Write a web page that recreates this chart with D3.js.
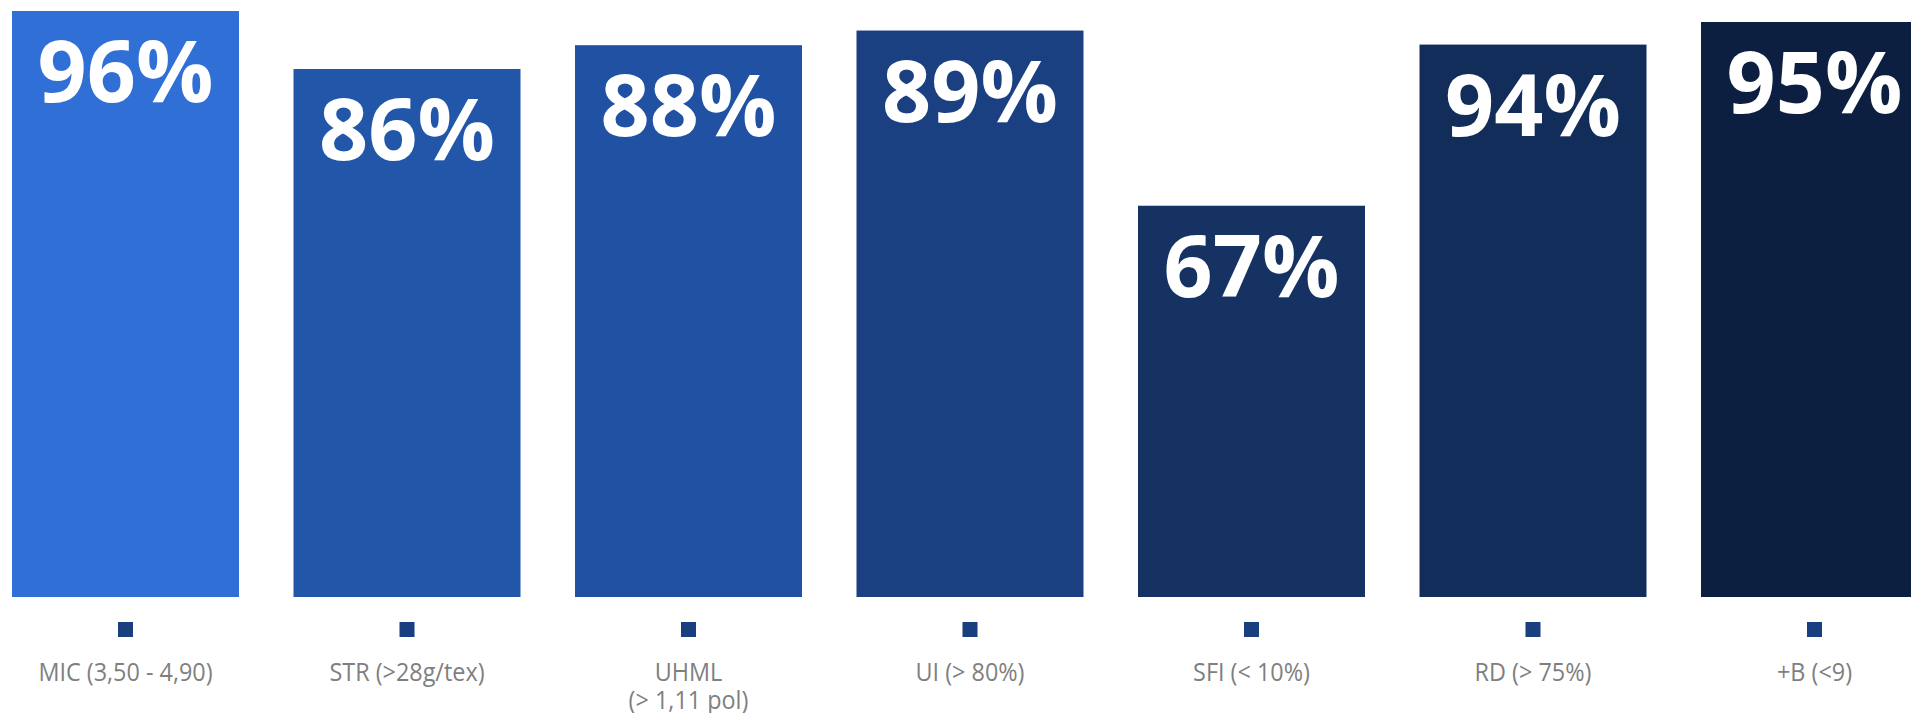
<!DOCTYPE html>
<html>
<head>
<meta charset="utf-8">
<script src="https://cdn.jsdelivr.net/npm/d3@7"></script>
<style>
  html, body { margin: 0; padding: 0; background: #ffffff; overflow: hidden; }
  svg { display: block; }
</style>
</head>
<body>
<script>
// ---- data ----
const categories = ["MIC (3,50 - 4,90)", "STR (>28g/tex)", "UHML\n(> 1,11 pol)", "UI (> 80%)", "SFI (< 10%)", "RD (> 75%)", "+B (<9)"];
// bar lengths as drawn in the picture (percent units)
const values = [96, 86.5, 90.4, 92.8, 64.1, 90.5, 94.2];
// value labels shown on the bars
const valueLabels = ["96%", "86%", "88%", "89%", "67%", "94%", "95%"];
const barColors = ["#2F6FD6", "#2156A9", "#2051A2", "#1B4082", "#153263", "#132D5A", "#0D1F40"];

// ---- layout ----
const W = 1911, H = 713;
const svg = d3.select("body").append("svg").attr("width", W).attr("height", H);

const x = d3.scaleBand().domain(categories).range([12, 1928]).paddingInner(0.1936).paddingOuter(0);
const y = d3.scaleLinear().domain([0, 100]).range([597, -13.4]);

const g = svg.append("g");

g.selectAll("rect.bar")
  .data(categories)
  .join("rect")
  .attr("class", "bar")
  .attr("x", d => x(d))
  .attr("width", x.bandwidth())
  .attr("y", (d, i) => y(values[i]))
  .attr("height", (d, i) => y(0) - y(values[i]))
  .attr("fill", (d, i) => barColors[i]);

g.selectAll("text.val")
  .data(categories)
  .join("text")
  .attr("class", "val")
  .attr("x", d => x(d) + x.bandwidth() / 2)
  .attr("y", (d, i) => y(values[i]) + 91)
  .attr("text-anchor", "middle")
  .attr("font-family", "'Open Sans', 'Noto Sans', sans-serif")
  .attr("font-weight", 700)
  .attr("font-size", 86)
  .attr("fill", "#ffffff")
  .text((d, i) => valueLabels[i]);

// small square markers under each bar
g.selectAll("rect.marker")
  .data(categories)
  .join("rect")
  .attr("class", "marker")
  .attr("x", d => x(d) + x.bandwidth() / 2 - 7.5)
  .attr("y", 622)
  .attr("width", 15)
  .attr("height", 15)
  .attr("fill", "#1A3F80");

// category labels
const labels = g.selectAll("g.cat")
  .data(categories)
  .join("g")
  .attr("class", "cat")
  .attr("transform", d => `translate(${x(d) + x.bandwidth() / 2},681) scale(0.9,1)`);

labels.append("text")
  .attr("text-anchor", "middle")
  .attr("font-family", "'Open Sans', 'Noto Sans', sans-serif")
  .attr("font-size", 26)
  .attr("fill", "#7F7F7F")
  .selectAll("tspan")
  .data(d => d.split("\n"))
  .join("tspan")
  .attr("x", 0)
  .attr("dy", (d, i) => i === 0 ? 0 : 28)
  .text(d => d);
</script>
</body>
</html>
